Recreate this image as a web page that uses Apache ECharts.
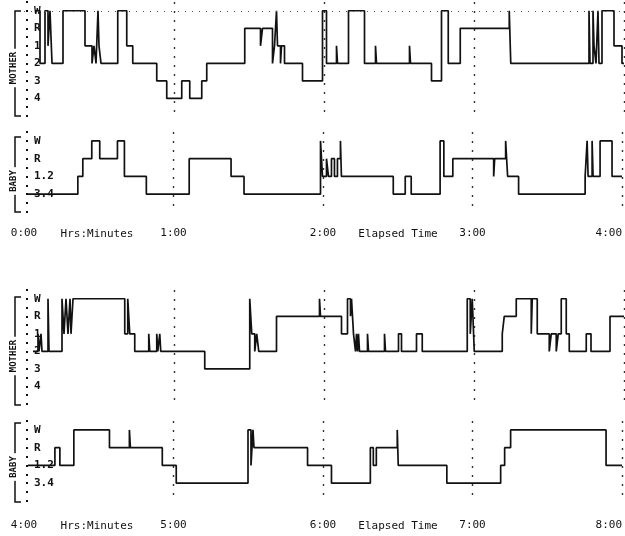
<!DOCTYPE html>
<html>
<head>
<meta charset="utf-8">
<script src="https://cdn.jsdelivr.net/npm/echarts@6/dist/echarts.min.js"></script>
<style>
  html, body { margin: 0; padding: 0; background: #fff; }
  #chart { width: 625px; height: 536px; }
</style>
</head>
<body>
<div id="chart"></div>
<script>
// stage names, index = value on the y axis (0 = awake at the top)
var motherStages = ['W', 'R', '1', '2', '3', '4']
var babyStages = ['W', 'R', '1.2', '3.4']
var hourLabels = ['0:00', '1:00', '2:00', '3:00', '4:00', '5:00', '6:00', '7:00', '8:00']
var axisCaptions = ['Hrs:Minutes', 'Elapsed Time']

// [elapsed minutes, stage index] - each value holds until the next point
var motherFirst = [
  [4.4, 0], [6.4, 3], [8.4, 0], [9.6, 2], [10.4, 0], [11.2, 3], [15.6, 0], [24.4, 2], [27.2, 3], [28, 2],
  [28.8, 3], [29.6, 0], [30, 2], [30.8, 3], [37.5, 0], [41.1, 2], [43.5, 3], [53.1, 4], [57.1, 5], [63.1, 4],
  [66.3, 5], [71.1, 4], [73.1, 3], [88.3, 1], [94.6, 2], [95.4, 1], [99.4, 3], [100.2, 2], [101, 0], [101.4, 2],
  [102.6, 3], [103, 2], [104.2, 3], [111.4, 4], [119.4, 0], [121, 3], [125, 2], [125.4, 3], [129.8, 0], [136.2, 3],
  [140.6, 2], [141, 3], [154.2, 2], [154.6, 3], [163, 4], [167, 0], [169.7, 3], [174.5, 1], [194.1, 0], [194.7, 3],
  [226, 0], [226.4, 3], [227.6, 0], [228, 2], [228.8, 3], [229.6, 0], [230, 3], [231.2, 0], [236, 2], [239.2, 3],
  [240, 3]
]
var babyFirst = [
  [1.2, 3], [21.6, 2], [23.6, 1], [27.2, 0], [30.4, 1], [37.5, 0], [40.3, 2], [49.1, 3], [66.3, 1], [83.1, 2],
  [88.3, 3], [119, 0], [119.8, 2], [121.4, 1], [122.2, 2], [123.4, 1], [124.6, 2], [125.8, 1], [127, 0], [127.4, 2],
  [148.2, 3], [153, 2], [155.4, 3], [167, 0], [168.5, 2], [172.1, 1], [188.5, 2], [188.9, 1], [193.3, 0], [194.1, 2],
  [198.5, 3], [225.2, 2], [226, 0], [226.4, 2], [228, 0], [228.4, 2], [231.2, 0], [236, 2], [240, 2]
]
var motherSecond = [
  [243.6, 3], [245.6, 2], [246, 3], [246.8, 2], [247.2, 3], [249.6, 0], [250, 3], [255.2, 0], [256, 2], [256.8, 0],
  [257.6, 2], [258.4, 0], [258.8, 2], [259.6, 0], [280.3, 2], [281.5, 0], [282.3, 2], [284.3, 3], [289.9, 2], [290.3, 3],
  [293.1, 2], [293.5, 3], [294.3, 2], [294.7, 3], [312.3, 4], [330.3, 0], [331.1, 2], [332.3, 3], [333.1, 2], [333.9, 3],
  [341, 1], [358.2, 0], [358.6, 1], [367, 2], [369.4, 0], [370.6, 1], [371, 0], [371.8, 2], [372.6, 3], [373, 2],
  [373.4, 3], [373.8, 2], [374.2, 3], [377.4, 2], [377.8, 3], [384.2, 2], [384.6, 3], [389.8, 2], [391, 3], [397, 2],
  [399.3, 3], [417.3, 0], [418.5, 2], [419.3, 0], [420.1, 3], [431.3, 2], [432.1, 1], [436.9, 0], [442.9, 2], [443.3, 0],
  [445.3, 2], [450.1, 3], [450.9, 2], [452.9, 3], [453.7, 2], [454.9, 0], [456.9, 2], [458.1, 3], [464.9, 2], [466.8, 3],
  [474.4, 1], [480, 1]
]
var babySecond = [
  [241.6, 2], [252.4, 1], [254.4, 2], [260, 0], [274.3, 1], [282.3, 0], [282.7, 1], [295.5, 2], [301.1, 3], [329.9, 0],
  [331.1, 2], [331.9, 0], [332.3, 1], [353.8, 2], [363.4, 3], [379, 1], [380.2, 2], [381.4, 1], [389.8, 0], [390.2, 2],
  [409.7, 3], [431.3, 2], [432.9, 1], [435.3, 0], [473.6, 2], [480, 2]
]

var chart = echarts.init(document.getElementById('chart'))
var ink = '#111'
var mono = '"DejaVu Sans Mono", monospace'

// one grid per track
var grids = [
  { left: 24, right: 1, top: 2, height: 114 },
  { left: 24, right: 1, top: 132, height: 80 },
  { left: 24, right: 1, top: 290, height: 114 },
  { left: 24, right: 1, top: 421, height: 80 },
]

function xAxisFor(i, from, showLabels, margin) {
  return {
    type: 'value',
    gridIndex: i,
    min: from,
    max: from + 240,
    interval: 60,
    axisLine: { show: false },
    axisTick: { show: false },
    splitLine: {
      show: true,
      showMinLine: false,
      lineStyle: { color: '#333', width: 1.4, type: [2, 7] },
    },
    axisLabel: {
      show: showLabels,
      margin: margin,
      color: ink,
      fontFamily: mono,
      fontSize: 11,
      showMinLabel: true,
      showMaxLabel: true,
      alignMaxLabel: 'right',
      formatter: function (v) { return hourLabels[Math.round(v / 60)] },
    },
  }
}

function yAxisFor(i, names) {
  return {
    type: 'value',
    gridIndex: i,
    inverse: true,
    min: -0.5,
    max: names.length === 6 ? 6 : 4,
    interval: 0.5,
    offset: -2,
    axisLine: { show: false },
    axisTick: { show: true, inside: true, length: 2, lineStyle: { color: ink, width: 2 } },
    splitLine: { show: false },
    axisLabel: {
      inside: true,
      margin: 8,
      color: ink,
      fontFamily: mono,
      fontWeight: 'bold',
      fontSize: 11,
      formatter: function (v) {
        return Number.isInteger(v) && names[v] !== undefined ? names[v] : ''
      },
    },
  }
}

function track(i, data, topDots) {
  var s = {
    type: 'line',
    xAxisIndex: i,
    yAxisIndex: i,
    step: 'end',
    symbol: 'none',
    silent: true,
    lineStyle: { color: ink, width: 1.7 },
    data: data,
  }
  if (topDots) {
    // faint dotted guide along the awake level
    s.markLine = {
      silent: true,
      symbol: 'none',
      label: { show: false },
      lineStyle: { color: '#555', width: 1, type: [1, 6] },
      data: [{ yAxis: 0 }],
    }
  }
  return s
}

// bracket + rotated track name on the left
function bracket(top, bottom, name, midY) {
  return [
    {
      type: 'polyline',
      shape: { points: [[21, top], [15, top], [15, bottom], [21, bottom]] },
      style: { stroke: ink, lineWidth: 1.5, fill: null },
    },
    {
      type: 'text',
      x: 14,
      y: midY,
      rotation: Math.PI / 2,
      style: {
        text: name,
        font: 'bold 9px ' + mono,
        fill: ink,
        align: 'center',
        verticalAlign: 'middle',
        textAlign: 'center',
        textVerticalAlign: 'middle',
        backgroundColor: '#fff',
        padding: [1, 3],
      },
    },
  ]
}

function caption(text, x, y) {
  return {
    type: 'text',
    x: x,
    y: y,
    style: {
      text: text,
      font: '11px ' + mono,
      fill: ink,
      align: 'center',
      verticalAlign: 'middle',
      textAlign: 'center',
      textVerticalAlign: 'middle',
    },
  }
}

var option = {
  animation: false,
  backgroundColor: '#fff',
  grid: grids,
  xAxis: [
    xAxisFor(0, 0, false, 0),
    xAxisFor(1, 0, true, 16),
    xAxisFor(2, 240, false, 0),
    xAxisFor(3, 240, true, 19),
  ],
  yAxis: [
    yAxisFor(0, motherStages),
    yAxisFor(1, babyStages),
    yAxisFor(2, motherStages),
    yAxisFor(3, babyStages),
  ],
  series: [
    track(0, motherFirst, true),
    track(1, babyFirst),
    track(2, motherSecond),
    track(3, babySecond),
  ],
  graphic: [].concat(
    bracket(11, 116, 'MOTHER', 68),
    bracket(137, 212, 'BABY', 181),
    bracket(297, 405, 'MOTHER', 356),
    bracket(423, 502, 'BABY', 467),
    [
      caption(axisCaptions[0], 97, 234),
      caption(axisCaptions[1], 398, 234),
      caption(axisCaptions[0], 97, 526),
      caption(axisCaptions[1], 398, 526),
    ]
  ),
}

chart.setOption(option)
</script>
</body>
</html>
